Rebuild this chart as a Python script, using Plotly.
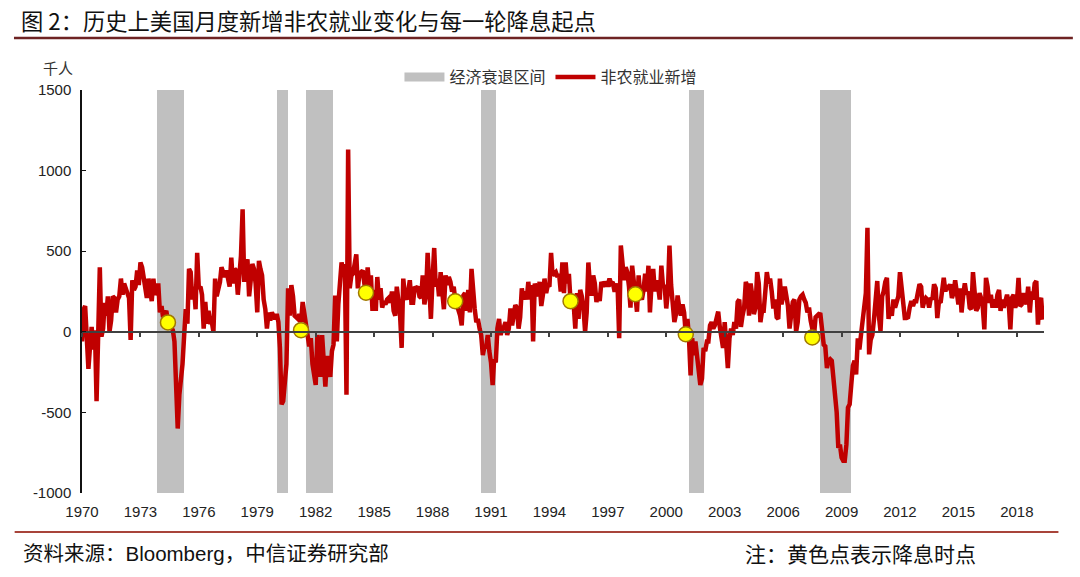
import pandas as pd
import plotly.graph_objects as go

# ---------------- data (thousand persons, monthly change in nonfarm payrolls) ----------------
nfp_1970s = [
    -60, 140, 160, -50, -230, -90, 30, -110, 10, -430, -80, 400,      # 1970
    -30, 20, 180, 100, 220, 0, 70, 220, 210, 120, 200, 220,           # 1971
    330, 230, 300, 260, 240, 210, -50, 320, 260, 280, 380, 290,       # 1972
    430, 400, 330, 260, 210, 330, 240, 190, 330, 230, 250, 300,       # 1973
    120, 160, 90, 110, 130, 60, 40, 30, 10, -60, -380, -600,          # 1974
    -390, -300, -200, -20, 140, 50, 390, 370, 200, 280, 140, 490,     # 1975
    270, 280, 230, 20, 185, 50, 130, 60, 60, 0, 330, 220,             # 1976
    260, 310, 400, 360, 340, 380, 330, 280, 460, 300, 390, 380,       # 1977
    230, 340, 470, 760, 310, 400, 450, 220, 370, 420, 390, 300,       # 1978
    120, 440, 390, 350, 200, 140, 20, 120, 70, 120, 100, 80,          # 1979
]
nfp_1980s = [
    110, 60, -100, -450, -430, -300, -200, 270, 100, 290, 220, 100,   # 1980
    90, 80, 110, 60, 185, 100, 20, -20, -90, -40, -200, -270,         # 1981
    -330, -20, -150, -280, -20, -240, -340, -150, -200, -280, -120, -80,  # 1982
    225, -60, 170, 290, 430, 370, 420, -390, 1130, 270, 350, 360,     # 1983
    440, 480, 270, 360, 370, 380, 300, 240, 400, 280, 350, 130,       # 1984
    260, 130, 340, 200, 270, 150, 190, 170, 200, 210, 180, 250,       # 1985
    130, 100, 280, 170, 110, -100, 330, 220, 200, 250, 320, 180,      # 1986
    180, 280, 270, 280, 220, 210, 350, 170, 230, 490, 300, 80,        # 1987
    330, 520, 280, 330, 220, 370, 250, 140, 350, 290, 340, 310,       # 1988
    250, 280, 200, 170, 130, 100, 40, 225, 240, 130, 260, 120,        # 1989
]
nfp_1990s = [
    390, 240, 145, 60, 80, 20, -20, -145, -90, -100, -20, -120,       # 1990
    -190, -330, -170, -190, 20, 80, -20, 20, 30, 60, -20, 20,         # 1991
    145, 40, 100, 165, 150, 20, 90, 270, 200, 250, 200, 310,          # 1992
    200, 290, -60, 300, 250, 220, 310, 160, 230, 330, 240, 290,       # 1993
    280, 490, 350, 360, 370, 340, 360, 250, 430, 240, 430, 300,       # 1994
    360, 190, 200, 170, 20, 240, 80, 260, 220, 150, 0, 120,           # 1995
    430, 280, 225, 350, 300, 185, 240, 190, 310, 280, 310, 290,       # 1996
    290, 330, 300, 310, 260, 260, 300, -40, 535, 430, 320, 400,       # 1997
    370, 280, 150, 410, 300, 240, 125, 350, 220, 200, 260, 360,       # 1998
    250, 410, 120, 300, 390, 250, 320, 280, 200, 410, 280, 290,       # 1999
]
nfp_2000s = [
    145, 250, 535, 290, 165, 60, 110, 225, 150, 100, 170, 120,        # 2000
    -15, 80, -30, -270, -40, -145, -60, -150, -240, -330, -290, -100, # 2001
    -120, -60, -60, 40, 60, 20, 40, 90, 125, 30, -40, -100,           # 2002
    60, -140, -225, -40, 20, -20, 60, 20, 185, 200, 30, 100,          # 2003
    150, 310, 280, 100, 300, 225, 110, 150, 370, 300, 60, 130,        # 2004
    130, 250, 370, 300, 330, 250, 145, 200, 90, 80, 330, 170,         # 2005
    250, 280, 225, 160, 20, 100, 185, 200, 0, 60, 200, 220,           # 2006
    230, 200, 180, 120, 150, 70, 30, -30, 90, 100, 110, 107,          # 2007
    -10, -80, -90, -225, -180, -170, -180, -300, -410, -500, -720, -700,  # 2008
    -780, -800, -800, -700, -470, -450, -330, -210, -180, -265, -40, -110,  # 2009
]
nfp_2010s = [
    -16, 65, 130, 240, 645, -140, -50, -20, 80, 210, 315, 100,        # 2010
    5, 220, 250, 310, 335, 80, 150, 100, 200, 150, 190, 220,          # 2011
    370, 260, 200, 85, 85, 90, 150, 190, 160, 190, 190, 240,          # 2012
    295, 280, 150, 190, 210, 200, 150, 210, 200, 295, 270, 85,        # 2013
    190, 180, 260, 335, 250, 290, 260, 295, 210, 240, 320, 260,       # 2014
    170, 270, 120, 230, 300, 230, 250, 150, 140, 370, 250, 130,       # 2015
    150, 240, 210, 160, 15, 335, 280, 180, 230, 150, 200, 150,        # 2016
    230, 260, 130, 200, 150, 210, 230, 180, 15, 210, 230, 150,        # 2017
    180, 335, 160, 170, 240, 210, 170, 280, 120, 250, 200, 300,       # 2018
    315, 45, 190, 210, 75,                                            # 2019
]
series_start = "1970-01-01"

recession_start = ["1973-11-01", "1980-01-01", "1981-07-01", "1990-07-01", "2001-03-01", "2007-12-01"]
recession_end = ["1975-03-31", "1980-07-31", "1982-11-30", "1991-03-31", "2001-11-30", "2009-06-30"]

cut_dates = ["1974-06-01", "1981-04-01", "1984-08-01", "1989-03-01",
             "1995-02-01", "1998-06-01", "2001-01-01", "2007-07-01"]
cut_values = [58, 10, 243, 190, 190, 233, -15, -35]

y_ticks = [-1000, -500, 0, 500, 1000, 1500]
y_ticktext = ["-1000", "-500", "0", "500", "1000", "1500"]
x_range = ["1970-01-01", "2019-05-25"]

# ---------------- build ----------------
nfp = nfp_1970s + nfp_1980s + nfp_1990s + nfp_2000s + nfp_2010s
dates = pd.date_range(series_start, periods=len(nfp), freq="MS")

rs = pd.to_datetime(recession_start)
re_ = pd.to_datetime(recession_end)
rec_mid = rs + (re_ - rs) / 2
rec_width = [(e - s).total_seconds() * 1000 for s, e in zip(rs, re_)]
y_lo, y_hi = min(y_ticks), max(y_ticks)

RED = "#C00000"
GRAY = "#C0C0C0"
FONT = "Liberation Sans, Arial, Noto Sans CJK SC, sans-serif"
CJK = "Noto Sans CJK SC, sans-serif"

fig = go.Figure()

fig.add_trace(go.Bar(
    x=rec_mid, y=[y_hi - y_lo] * len(rs), base=[y_lo] * len(rs), width=rec_width,
    marker=dict(color=GRAY, line=dict(width=0)), showlegend=False, hoverinfo="skip",
))
# legend proxy for the recession bands
fig.add_trace(go.Scatter(
    x=[None], y=[None], mode="lines", name="经济衰退区间",
    line=dict(color=GRAY, width=9),
))
fig.add_trace(go.Scatter(
    x=dates, y=nfp, mode="lines", name="非农就业新增",
    line=dict(color=RED, width=4.5, shape="linear"),
))
fig.add_trace(go.Scatter(
    x=pd.to_datetime(cut_dates), y=cut_values, mode="markers", showlegend=False,
    marker=dict(size=15, color="#FFFF00", line=dict(color="#A07800", width=1.5)),
))
# invisible trace to carry the zero-line axis
fig.add_trace(go.Scatter(x=[dates[0]], y=[0], xaxis="x2", mode="markers",
                         marker=dict(opacity=0), showlegend=False, hoverinfo="skip"))

zero_pos = (0 - y_lo) / (y_hi - y_lo)

fig.update_layout(
    width=1080, height=577,
    margin=dict(l=82, r=36, t=90, b=84),
    paper_bgcolor="white", plot_bgcolor="white",
    bargap=0,
    font=dict(family=FONT, size=15, color="#222222"),
    xaxis=dict(
        type="date", range=x_range, tick0="1970-01-01", dtick="M36", tickformat="%Y",
        showgrid=False, zeroline=False, showline=False, ticks="",
        tickfont=dict(size=15, color="#222222"), ticklabelstandoff=8,
    ),
    xaxis2=dict(
        type="date", range=x_range, overlaying="x", anchor="free", position=zero_pos,
        side="bottom", tick0="1970-01-01", dtick="M36", showticklabels=False,
        showgrid=False, zeroline=False, showline=True, linecolor="#404040", linewidth=1.5,
        ticks="outside", ticklen=4, tickcolor="#404040", tickwidth=1.5,
    ),
    yaxis=dict(
        range=[y_lo, y_hi], tickvals=y_ticks, ticktext=y_ticktext,
        showgrid=False, zeroline=False,
        showline=True, linecolor="#111111", linewidth=1.5,
        ticks="inside", ticklen=4, tickcolor="#111111",
        tickfont=dict(size=15, color="#222222"), ticklabelstandoff=6,
    ),
    legend=dict(
        orientation="h", x=0.33, xanchor="left", y=1.032, yanchor="middle",
        font=dict(family=CJK, size=16, color="#333333"), bgcolor="rgba(0,0,0,0)",
        itemwidth=40, tracegroupgap=0,
    ),
)

fig.add_annotation(text="图 2：历史上美国月度新增非农就业变化与每一轮降息起点",
                   xref="paper", yref="paper", x=-0.065, y=1.174, xanchor="left", yanchor="middle",
                   showarrow=False, font=dict(family=CJK, size=22.3, color="#111111"))
fig.add_annotation(text="千人", xref="paper", yref="paper", x=-0.025, y=1.055,
                   xanchor="center", yanchor="middle", showarrow=False,
                   font=dict(family=CJK, size=15, color="#333333"))
fig.add_annotation(text="资料来源：Bloomberg，中信证券研究部", xref="paper", yref="paper",
                   x=-0.063, y=-0.149, xanchor="left", yanchor="middle", showarrow=False,
                   font=dict(family="Liberation Sans, Noto Sans CJK SC, sans-serif", size=20.5, color="#111111"))
fig.add_annotation(text="注：黄色点表示降息时点", xref="paper", yref="paper",
                   x=0.687, y=-0.149, xanchor="left", yanchor="middle", showarrow=False,
                   font=dict(family=CJK, size=21, color="#111111"))

# decorative rules above the plot and above the footer
fig.add_shape(type="line", xref="paper", yref="paper", x0=-0.0707, x1=1.03, y0=1.129, y1=1.129,
              line=dict(color="#6E2323", width=2.5))
fig.add_shape(type="line", xref="paper", yref="paper", x0=-0.07, x1=1.015, y0=-0.097, y1=-0.097,
              line=dict(color="#A8443A", width=2))

fig.write_html("out.html")
